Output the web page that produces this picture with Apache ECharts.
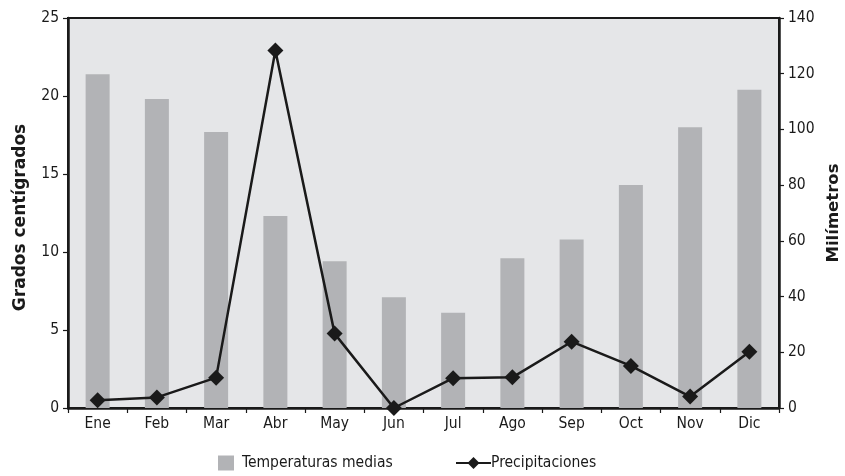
<!DOCTYPE html>
<html>
<head>
<meta charset="utf-8">
<script src="https://cdn.jsdelivr.net/npm/echarts@6/dist/echarts.min.js"></script>
<style>
html,body{margin:0;padding:0;background:#fff;}
#chart{width:845px;height:476px;}
</style>
</head>
<body>
<div id="chart"></div>
<script>
const months = ['Ene','Feb','Mar','Abr','May','Jun','Jul','Ago','Sep','Oct','Nov','Dic'];
const temperaturas = [21.4, 19.8, 17.7, 12.3, 9.4, 7.1, 6.1, 9.6, 10.8, 14.3, 18.0, 20.4];
const precipitaciones = [2.8, 3.8, 10.9, 128.3, 26.7, 0, 10.7, 11.0, 23.8, 15.1, 4.1, 20.2];
const leftTicks = [0, 5, 10, 15, 20, 25];
const rightTicks = [0, 20, 40, 60, 80, 100, 120, 140];

const FONT = '"DejaVu Sans Condensed", "Liberation Sans", sans-serif';
const BOLD = '"DejaVu Sans", "Liberation Sans", sans-serif';
const INK = '#1a1a1a';
const FS = 15.5;

const chart = echarts.init(document.getElementById('chart'), null, {renderer:'canvas'});
chart.setOption({
  animation: false,
  backgroundColor: '#ffffff',
  textStyle: {fontFamily: FONT, color: INK},
  grid: {
    left: 68, right: 66, top: 18, bottom: 68,
    outerBoundsMode: 'none',
    containLabel: false,
    show: true, backgroundColor: '#e5e6e8', borderColor: INK, borderWidth: 2
  },
  legend: [
    {
      data: ['Temperaturas medias'],
      left: 218, top: 455, padding: 0,
      icon: 'rect', itemWidth: 16, itemHeight: 15, itemGap: 8,
      textStyle: {fontFamily: FONT, fontSize: FS, color: INK, padding: [0,0,0,3]}
    },
    {
      data: ['Precipitaciones'],
      left: 455, top: 455, padding: 0,
      itemWidth: 35, itemHeight: 15, itemGap: 0,
      textStyle: {fontFamily: FONT, fontSize: FS, color: INK, padding: [0,0,0,-5]}
    }
  ],
  xAxis: {
    type: 'category',
    data: months,
    boundaryGap: true,
    axisLine: {lineStyle: {color: INK, width: 2.5}},
    axisTick: {show: true, inside: false, length: 5, alignWithLabel: false, interval: 0, lineStyle: {color: INK, width: 1.2}},
    axisLabel: {fontFamily: FONT, fontSize: FS, color: INK, margin: 8, interval: 0},
    splitLine: {show: false}
  },
  yAxis: [
    {
      type: 'value', min: leftTicks[0], max: leftTicks[leftTicks.length-1], interval: 5,
      position: 'left',
      name: 'Grados centígrados', nameLocation: 'middle', nameGap: 39, nameRotate: 90,
      nameTextStyle: {fontFamily: BOLD, fontWeight: 'bold', fontSize: 17, color: INK, padding: [0, 9, 0, 0]},
      axisLine: {show: true, lineStyle: {color: INK, width: 2.5}},
      axisTick: {show: true, inside: false, length: 5, lineStyle: {color: INK, width: 1.2}},
      axisLabel: {fontFamily: FONT, fontSize: FS, color: INK, margin: 9},
      splitLine: {show: false}
    },
    {
      type: 'value', min: rightTicks[0], max: rightTicks[rightTicks.length-1], interval: 20,
      position: 'right',
      name: 'Milímetros', nameLocation: 'middle', nameGap: 46, nameRotate: 90,
      nameTextStyle: {fontFamily: BOLD, fontWeight: 'bold', fontSize: 16.5, color: INK},
      axisLine: {show: true, lineStyle: {color: INK, width: 2.5}},
      axisTick: {show: true, inside: false, length: 5, lineStyle: {color: INK, width: 1.2}},
      axisLabel: {fontFamily: FONT, fontSize: FS, color: INK, margin: 9},
      splitLine: {show: false}
    }
  ],
  series: [
    {
      name: 'Temperaturas medias',
      type: 'bar',
      yAxisIndex: 0,
      data: temperaturas,
      barWidth: 24,
      itemStyle: {color: '#b2b3b6'}
    },
    {
      name: 'Precipitaciones',
      type: 'line',
      yAxisIndex: 1,
      data: precipitaciones,
      symbol: 'diamond',
      symbolSize: [16, 16],
      lineStyle: {color: INK, width: 2.5},
      itemStyle: {color: INK},
      z: 5
    }
  ]
});
</script>
</body>
</html>
